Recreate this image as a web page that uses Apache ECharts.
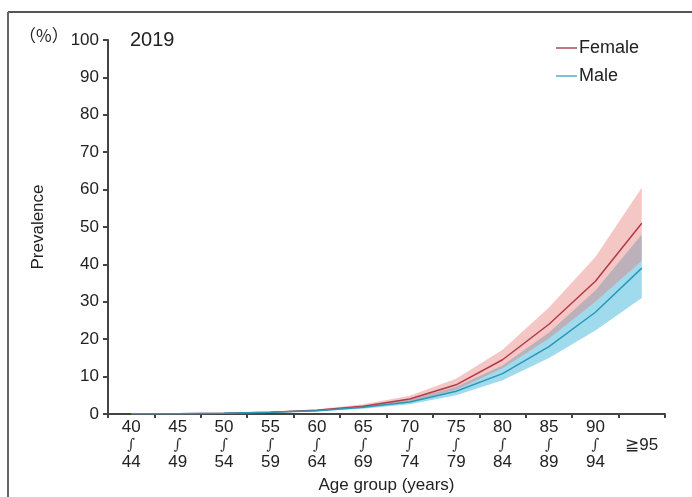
<!DOCTYPE html>
<html>
<head>
<meta charset="utf-8">
<script src="https://cdn.jsdelivr.net/npm/echarts@6/dist/echarts.min.js"></script>
<style>
  html, body { margin: 0; padding: 0; background: #fff; }
  #main { width: 692px; height: 497px; }
</style>
</head>
<body>
<div id="main"></div>
<script>
// data
const ageGroups = ['40\n{w|∫}\n44', '45\n{w|∫}\n49', '50\n{w|∫}\n54', '55\n{w|∫}\n59', '60\n{w|∫}\n64', '65\n{w|∫}\n69',
  '70\n{w|∫}\n74', '75\n{w|∫}\n79', '80\n{w|∫}\n84', '85\n{w|∫}\n89', '90\n{w|∫}\n94', '\n≧95\n'];
const femaleRate = [0.05, 0.1, 0.2, 0.5, 1.0, 2.1, 4.0, 7.8, 14.5, 24.0, 35.5, 51.0];
const femaleLow  = [0.03, 0.07, 0.15, 0.4, 0.8, 1.7, 3.3, 6.5, 12.2, 20.2, 30.0, 41.0];
const femaleHigh = [0.08, 0.14, 0.27, 0.62, 1.3, 2.6, 4.9, 9.4, 17.2, 28.5, 42.0, 60.5];
const maleRate   = [0.05, 0.1, 0.2, 0.5, 0.9, 1.8, 3.2, 6.1, 10.8, 18.0, 27.2, 39.0];
const maleLow    = [0.03, 0.07, 0.15, 0.4, 0.7, 1.4, 2.6, 5.0, 9.0, 15.0, 22.3, 31.0];
const maleHigh   = [0.08, 0.14, 0.26, 0.6, 1.1, 2.2, 3.9, 7.3, 13.0, 21.8, 33.0, 48.0];
const yTicks = { min: 0, max: 100, interval: 10 };

const chartDom = document.getElementById('main');
const myChart = echarts.init(chartDom);

const font = 'Liberation Sans, Arial, sans-serif';
const diff = (hi, lo) => hi.map((v, i) => +(v - lo[i]).toFixed(3));

// band = invisible lower series + stacked difference with area
function band(stack, lo, hi, color) {
  return [
    {
      name: stack + '_lo', type: 'line', stack: stack, data: lo,
      symbol: 'none', lineStyle: { opacity: 0 }, silent: true, z: 1
    },
    {
      name: stack + '_band', type: 'line', stack: stack, data: diff(hi, lo),
      symbol: 'none', lineStyle: { opacity: 0 }, areaStyle: { color: color, opacity: 1 },
      silent: true, z: 1
    }
  ];
}

let option = {
  animation: false,
  grid: { left: 108, right: 27, top: 40, bottom: 83, outerBoundsMode: 'none', containLabel: false },
  legend: {
    data: [
      { name: 'Female', itemStyle: { color: '#c27784' } },
      { name: 'Male', itemStyle: { color: '#7fc1d8' } }
    ],
    orient: 'vertical',
    left: 551, top: 34,
    icon: 'rect', itemWidth: 21, itemHeight: 2, itemGap: 10,
    textStyle: { fontFamily: font, fontSize: 18, color: '#222', padding: [0, 0, 0, -3] }
  },
  xAxis: {
    type: 'category',
    data: ageGroups,
    boundaryGap: true,
    name: 'Age group (years)',
    nameLocation: 'middle',
    nameGap: 60,
    nameTextStyle: { fontFamily: font, fontSize: 17, color: '#222' },
    axisLine: { lineStyle: { color: '#444', width: 2 } },
    axisTick: { show: true, inside: false, length: 4, lineStyle: { color: '#444', width: 2 } },
    axisLabel: {
      fontFamily: font, fontSize: 17, color: '#222', lineHeight: 17.5, margin: 5, interval: 0,
      rich: { w: { fontFamily: 'DejaVu Serif, serif', fontSize: 15, lineHeight: 17.5, color: '#333' } }
    },
    splitLine: { show: false }
  },
  yAxis: {
    type: 'value',
    min: yTicks.min, max: yTicks.max, interval: yTicks.interval,
    name: 'Prevalence',
    nameLocation: 'middle',
    nameGap: 61,
    nameRotate: 90,
    nameTextStyle: { fontFamily: font, fontSize: 17, color: '#222' },
    axisLine: { show: true, lineStyle: { color: '#444', width: 2 } },
    axisTick: { show: true, length: 5, lineStyle: { color: '#444', width: 2 } },
    axisLabel: { fontFamily: font, fontSize: 17, color: '#222', margin: 9 },
    splitLine: { show: false }
  },
  graphic: [
    { type: 'line', shape: { x1: 8, y1: 12, x2: 692, y2: 12 }, style: { stroke: '#555', lineWidth: 2 } },
    { type: 'line', shape: { x1: 8, y1: 12, x2: 8, y2: 497 }, style: { stroke: '#666', lineWidth: 2 } },
    { type: 'text', left: 19, top: 27, style: { text: '（%）', font: '17px "Noto Sans CJK JP", sans-serif', fill: '#222' } },
    { type: 'text', left: 130, top: 30, style: { text: '2019', font: '20px ' + font, fill: '#222' } }
  ],
  series: [
    ...band('m', maleLow, maleHigh, 'rgba(80,190,222,0.55)'),
    ...band('f', femaleLow, femaleHigh, 'rgba(228,120,115,0.42)'),
    {
      name: 'Female', type: 'line', data: femaleRate, symbol: 'none', z: 3,
      lineStyle: { color: '#b23a4c', width: 1.5 }, itemStyle: { color: '#c27784' }
    },
    {
      name: 'Male', type: 'line', data: maleRate, symbol: 'none', z: 3,
      lineStyle: { color: '#2a98b4', width: 1.5 }, itemStyle: { color: '#7fc1d8' }
    }
  ]
};

option && myChart.setOption(option);
</script>
</body>
</html>
